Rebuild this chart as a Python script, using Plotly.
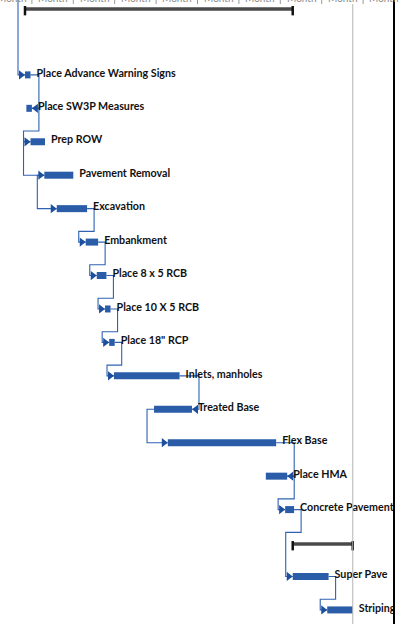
import plotly.graph_objects as go

# ---------------- data ----------------
TASKS = ["Place Advance Warning Signs", "Place SW3P Measures", "Prep ROW",
         "Pavement Removal", "Excavation", "Embankment", "Place 8 x 5 RCB",
         "Place 10 X 5 RCB", 'Place 18" RCP', "Inlets, manholes", "Treated Base",
         "Flex Base", "Place HMA", "Concrete Pavement", "Super Pave", "Striping"]
TASK_ROWS = [2, 3, 4, 5, 6, 7, 8, 9, 10, 11, 12, 13, 14, 15, 17, 18]
TASK_START = [0, 1, 4, 14, 23, 44, 52, 58, 61, 64.5, 93.5, 103.5, 174.5, 188.5, 194, 219]
TASK_FINISH = [4, 5, 14.5, 35, 45, 53, 59, 62, 65, 112, 121, 182, 190, 195, 220, 237.5]

SUMMARY_ROWS = [0, 16]
SUMMARY_START = [0, 194]
SUMMARY_FINISH = [194, 237.5]

# (predecessor, successor, type); None = predecessor above the visible area
LINKS = [
    (None, "Place Advance Warning Signs", "SS"),
    ("Place Advance Warning Signs", "Place SW3P Measures", "FF"),
    ("Place SW3P Measures", "Prep ROW", "FS"),
    ("Prep ROW", "Pavement Removal", "SS"),
    ("Pavement Removal", "Excavation", "SS"),
    ("Excavation", "Embankment", "FS"),
    ("Embankment", "Place 8 x 5 RCB", "FS"),
    ("Place 8 x 5 RCB", "Place 10 X 5 RCB", "FS"),
    ("Place 10 X 5 RCB", 'Place 18" RCP', "FS"),
    ('Place 18" RCP', "Inlets, manholes", "FS"),
    ("Inlets, manholes", "Treated Base", "FF"),
    ("Treated Base", "Flex Base", "SS"),
    ("Flex Base", "Place HMA", "FF"),
    ("Place HMA", "Concrete Pavement", "FS"),
    ("Concrete Pavement", "Super Pave", "FS"),
    ("Super Pave", "Striping", "FS"),
]

MONTH_BOUNDS = [5, 35, 65, 95, 125, 155, 185, 215, 245]
MONTH_LABELS = ["Month", "Month", "Month", "Month", "Month", "Month",
                "Month", "Month", "Month", "Month"]

# ---------------- styling / geometry ----------------
W, H = 410, 624
PANE_RIGHT = 393          # px where the gantt pane ends
PX_PER_DAY = 1.38
DAY0_PX = 25
ROW0_PX = 8
ROW_PX = 33.44
PX = 1 / PX_PER_DAY       # one pixel in days
GAP = 7 * PX              # connector elbow gap
LABEL_GAP = 6 * PX

BAR_COLOR = "#2a5ca8"
LINK_COLOR = "#2f62b2"
ARROW_COLOR = "#1c4f9e"

x_range = [-DAY0_PX / PX_PER_DAY, (PANE_RIGHT - DAY0_PX) / PX_PER_DAY]
y_range = [(H - ROW0_PX) / ROW_PX, -ROW0_PX / ROW_PX]

idx = {t: i for i, t in enumerate(TASKS)}

fig = go.Figure()

# ---- dependency connectors ----
lx, ly = [], []
arr_r_x, arr_r_y, arr_l_x, arr_l_y = [], [], [], []
for pred, succ, kind in LINKS:
    s = idx[succ]
    sr, ss, sf = TASK_ROWS[s], TASK_START[s], TASK_FINISH[s]
    if pred is None:
        x = ss - GAP
        pts = [(x, -1), (x, sr), (ss, sr)]
    else:
        p = idx[pred]
        pr, ps, pf = TASK_ROWS[p], TASK_START[p], TASK_FINISH[p]
        if kind == "SS":
            x = min(ps, ss) - GAP
            pts = [(ps, pr), (x, pr), (x, sr), (ss, sr)]
        elif kind == "FF":
            x = max(pf, sf) + GAP
            pts = [(pf, pr), (x, pr), (x, sr), (sf, sr)]
        else:  # FS
            x1 = pf + GAP
            x2 = ss - GAP
            ym = pr + 0.68
            pts = [(pf, pr), (x1, pr), (x1, ym), (x2, ym), (x2, sr), (ss, sr)]
    for a, b in pts:
        lx.append(a)
        ly.append(b)
    lx.append(None)
    ly.append(None)
    if kind == "FF":
        arr_l_x.append(sf + 4 * PX)
        arr_l_y.append(sr)
    else:
        arr_r_x.append(ss - 4 * PX)
        arr_r_y.append(sr)

fig.add_trace(go.Scatter(x=lx, y=ly, mode="lines",
                         line=dict(color=LINK_COLOR, width=1.1),
                         hoverinfo="skip", showlegend=False))

# ---- task bars ----
fig.add_trace(go.Bar(
    y=TASK_ROWS, base=TASK_START,
    x=[f - s for s, f in zip(TASK_START, TASK_FINISH)],
    orientation="h", width=7 / ROW_PX,
    marker=dict(color=BAR_COLOR, line=dict(width=0)),
    hovertext=TASKS, showlegend=False))

# ---- arrowheads ----
fig.add_trace(go.Scatter(x=arr_r_x, y=arr_r_y, mode="markers",
                         marker=dict(symbol="triangle-right", size=8, color=ARROW_COLOR),
                         hoverinfo="skip", showlegend=False))
fig.add_trace(go.Scatter(x=arr_l_x, y=arr_l_y, mode="markers",
                         marker=dict(symbol="triangle-left", size=8, color=ARROW_COLOR),
                         hoverinfo="skip", showlegend=False))

# ---- summary bars ----
sx, sy, cx, cy = [], [], [], []
for r, a, b in zip(SUMMARY_ROWS, SUMMARY_START, SUMMARY_FINISH):
    sx += [a, b, None]
    sy += [r + 0.03, r + 0.03, None]
    for xx in (a, b):
        cx += [xx, xx, None]
        cy += [r - 0.06, r + 0.22, None]
fig.add_trace(go.Scatter(x=sx, y=sy, mode="lines",
                         line=dict(color="#4a4a4a", width=3.5),
                         hoverinfo="skip", showlegend=False))
fig.add_trace(go.Scatter(x=cx, y=cy, mode="lines",
                         line=dict(color="#111111", width=2.5),
                         hoverinfo="skip", showlegend=False))

# ---- task labels ----
fig.add_trace(go.Scatter(
    x=[f + LABEL_GAP for f in TASK_FINISH], y=[r - 0.03 for r in TASK_ROWS],
    mode="text", text=TASKS, textposition="middle right",
    textfont=dict(family="Lato", size=10.7, color="#111111", weight="bold"),
    cliponaxis=True, hoverinfo="skip", showlegend=False))

# ---- timescale header (mostly scrolled out of view) ----
shapes = []
for m in MONTH_BOUNDS:
    shapes.append(dict(type="line", xref="x", yref="paper", x0=m, x1=m,
                       y0=1, y1=1 - 4 / H, line=dict(color="#9a9a9a", width=1)))
finish_line = max(TASK_FINISH)
shapes.append(dict(type="line", xref="x", yref="paper", x0=finish_line, x1=finish_line,
                   y0=0, y1=1 - 4 / H, line=dict(color="#b5b5b5", width=1)))
annotations = []
mids = [MONTH_BOUNDS[0] - 15] + [(a + b) / 2 for a, b in zip(MONTH_BOUNDS[:-1], MONTH_BOUNDS[1:])] \
       + [MONTH_BOUNDS[-1] + 15]
for mx, lab in zip(mids, MONTH_LABELS):
    annotations.append(dict(x=mx, y=1, xref="x", yref="paper", text=lab,
                            showarrow=False, yanchor="middle", yshift=2,
                            font=dict(family="Lato", size=10, color="#8a8a8a")))

fig.update_layout(
    width=W, height=H, margin=dict(l=0, r=0, t=0, b=0),
    paper_bgcolor="white", plot_bgcolor="white",
    barmode="overlay", shapes=shapes, annotations=annotations,
    xaxis=dict(range=x_range, domain=[0, PANE_RIGHT / W], showgrid=False,
               zeroline=False, showticklabels=False, ticks=""),
    yaxis=dict(range=y_range, side="right", showgrid=False, zeroline=False,
               showticklabels=False, ticks="", showline=True,
               linecolor="#000000", linewidth=2),
)

fig.write_html("out.html", config={"displayModeBar": False},
               post_script="document.body.style.margin='0';document.body.style.overflow='hidden';")
